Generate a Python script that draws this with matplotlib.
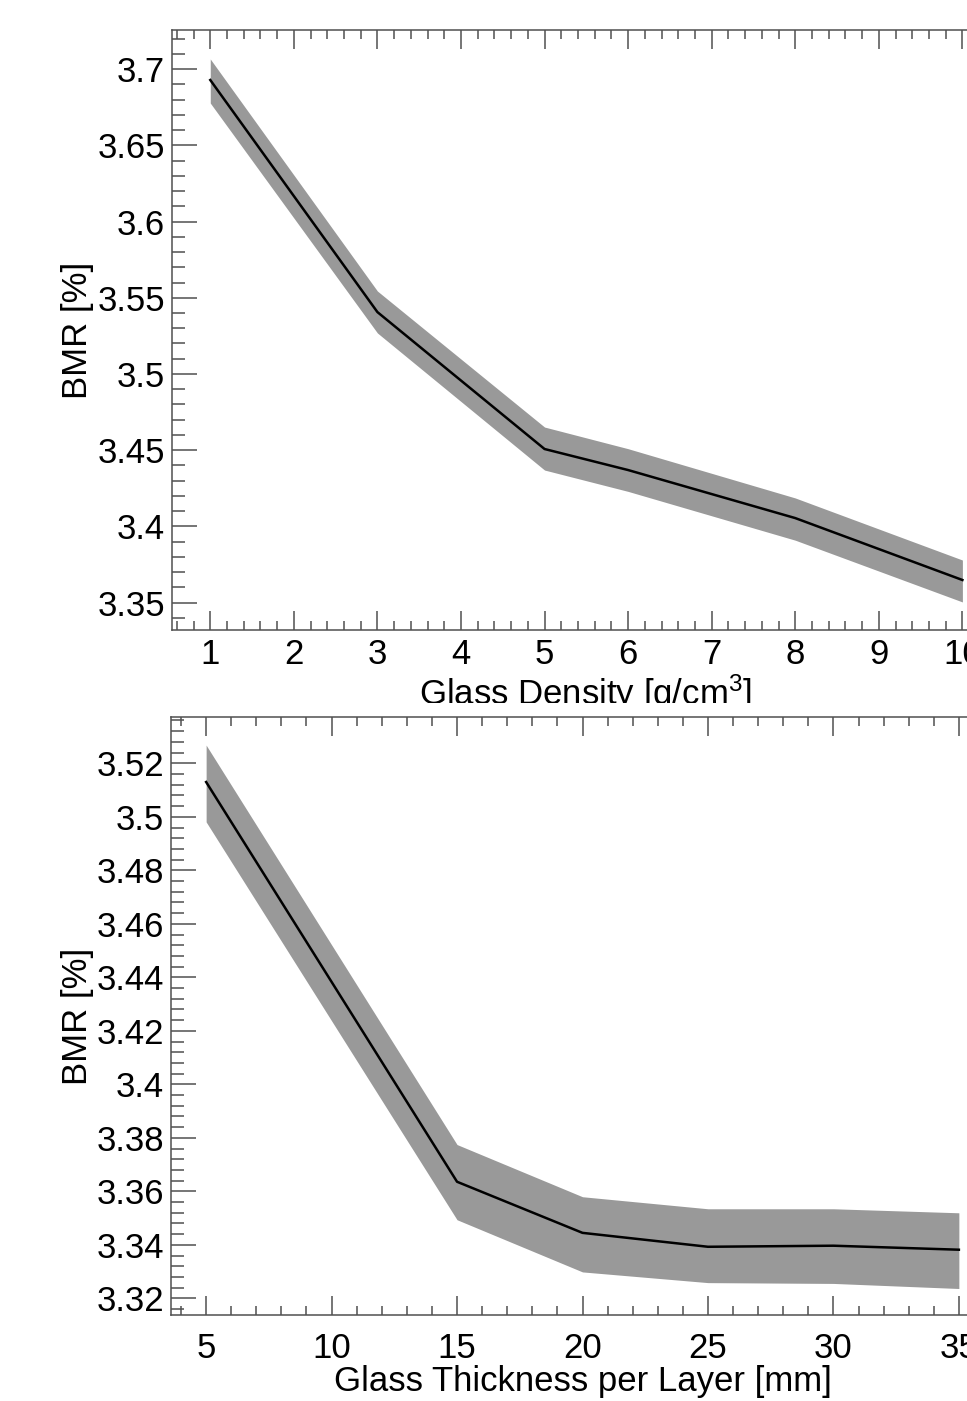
import matplotlib
matplotlib.use("Agg")
import matplotlib.pyplot as plt
from matplotlib.ticker import MultipleLocator, FormatStrFormatter

plt.rcParams['font.family'] = ['Liberation Sans', 'DejaVu Sans']
plt.rcParams['mathtext.fontset'] = 'custom'
plt.rcParams['mathtext.rm'] = 'Liberation Sans'
plt.rcParams['mathtext.it'] = 'Liberation Sans:italic'

# top panel: BMR vs glass density
density = [1, 3, 5, 6, 8, 10]
bmr_density = [3.6928, 3.5406, 3.4508, 3.4370, 3.4055, 3.3649]
bmr_density_hi = [3.7066, 3.5544, 3.4652, 3.4510, 3.4187, 3.3780]
bmr_density_lo = [3.6777, 3.5269, 3.4370, 3.4230, 3.3910, 3.3505]

# bottom panel: BMR vs glass thickness per layer
thickness = [5, 15, 20, 25, 30, 35]
bmr_thick = [3.5130, 3.3636, 3.3445, 3.3393, 3.3397, 3.3382]
bmr_thick_hi = [3.5268, 3.3775, 3.3580, 3.3535, 3.3535, 3.3520]
bmr_thick_lo = [3.4981, 3.3494, 3.3299, 3.3259, 3.3256, 3.3237]

W, H = 967, 1401
FS = 25
frame_col = '#505050'
band_col = '#999999'

fig = plt.figure(figsize=(W / 100, H / 100), dpi=100, facecolor='white')


def px_axes(left, top, right, bottom, **kw):
    return fig.add_axes([left / W, 1 - bottom / H, (right - left) / W, (bottom - top) / H], **kw)


def style(ax, xmaj, xmin, ymaj, ymin, xpad):
    ax.xaxis.set_major_locator(MultipleLocator(xmaj))
    ax.xaxis.set_minor_locator(MultipleLocator(xmin))
    ax.yaxis.set_major_locator(MultipleLocator(ymaj))
    ax.yaxis.set_minor_locator(MultipleLocator(ymin))
    ax.xaxis.set_major_formatter(FormatStrFormatter('%g'))
    ax.yaxis.set_major_formatter(FormatStrFormatter('%g'))
    for s in ax.spines.values():
        s.set_color(frame_col)
        s.set_linewidth(1.1)
    ax.tick_params(axis='x', which='both', direction='in', top=True, bottom=True,
                   color=frame_col, width=1.1, labelsize=FS, pad=xpad)
    ax.tick_params(axis='x', which='major', length=13.5)
    ax.tick_params(axis='x', which='minor', length=6.5)
    ax.tick_params(axis='y', which='both', direction='in', left=True, right=True,
                   color=frame_col, width=1.1, labelsize=FS, pad=5)
    ax.tick_params(axis='y', which='major', length=18)
    ax.tick_params(axis='y', which='minor', length=9.4)


ax1 = px_axes(172, 30, 1000, 630, zorder=0)
ax1.fill_between(density, bmr_density_lo, bmr_density_hi, color=band_col, lw=0)
ax1.plot(density, bmr_density, color='black', lw=1.8)
ax1.set_xlim(0.542, 10.45)
ax1.set_ylim(3.3321, 3.7256)
style(ax1, 1, 0.2, 0.05, 0.01, 5.5)
ax1.set_ylabel('BMR [%]', fontsize=FS)
ax1.yaxis.set_label_coords(94 / W, 1 - 330 / H, transform=fig.transFigure)
ax1.set_xlabel('Glass Density [g/cm$^{3}$]', fontsize=FS)
ax1.xaxis.set_label_coords(586 / W, 1 - 672 / H, transform=fig.transFigure)

# white pad of the lower canvas hides the bottom of the upper x title
cover = px_axes(0, 703, W, H, zorder=1)
cover.set_facecolor('white')
cover.set_xticks([])
cover.set_yticks([])
for s in cover.spines.values():
    s.set_visible(False)

ax2 = px_axes(171, 717, 994, 1315, zorder=2)
ax2.fill_between(thickness, bmr_thick_lo, bmr_thick_hi, color=band_col, lw=0)
ax2.plot(thickness, bmr_thick, color='black', lw=1.8)
ax2.set_xlim(3.6, 36.4)
ax2.set_ylim(3.3138, 3.5373)
style(ax2, 5, 1, 0.02, 0.004, 12)
ax2.set_ylabel('BMR [%]', fontsize=FS)
ax2.yaxis.set_label_coords(94 / W, 1 - 1016 / H, transform=fig.transFigure)
ax2.set_xlabel('Glass Thickness per Layer [mm]', fontsize=FS)
ax2.xaxis.set_label_coords(583 / W, 1 - 1365 / H, transform=fig.transFigure)

fig.savefig('out.png', dpi=100, facecolor='white')
